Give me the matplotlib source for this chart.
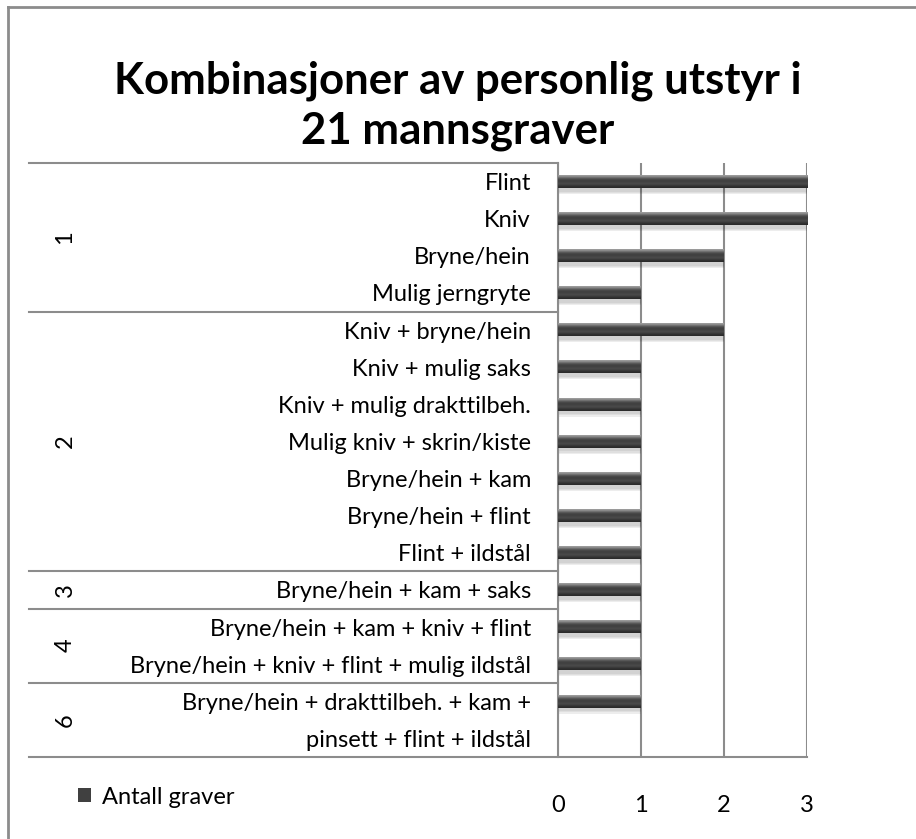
import numpy as np
import matplotlib
matplotlib.use("Agg")
import matplotlib.pyplot as plt
from matplotlib.transforms import blended_transform_factory
from matplotlib.lines import Line2D

plt.rcParams['font.family'] = ['Lato', 'DejaVu Sans']

title = "Kombinasjoner av personlig utstyr i\n21 mannsgraver"
categories = [
    "Flint", "Kniv", "Bryne/hein", "Mulig jerngryte",
    "Kniv + bryne/hein", "Kniv + mulig saks", "Kniv + mulig drakttilbeh.",
    "Mulig kniv + skrin/kiste", "Bryne/hein + kam", "Bryne/hein + flint",
    "Flint + ildstål",
    "Bryne/hein + kam + saks",
    "Bryne/hein + kam + kniv + flint",
    "Bryne/hein + kniv + flint + mulig ildstål",
    "Bryne/hein + drakttilbeh. + kam +",
    "pinsett + flint + ildstål",
]
values = [3, 3, 2, 1, 2, 1, 1, 1, 1, 1, 1, 1, 1, 1, 1, np.nan]
group_names = ["1", "2", "3", "4", "6"]
group_sizes = [4, 7, 1, 2, 2]
series_name = "Antall graver"
xticks = [0, 1, 2, 3]

W, H = 916, 839
fs = 17
fig = plt.figure(figsize=(W / 100, H / 100), dpi=100)
ax = fig.add_axes([558 / W, 1 - 757 / H, (807 - 558) / W, (757 - 163) / H])

n = len(categories)
y = np.arange(n)
bh = 0.34
line_col = '#8c8c8c'

# shadow
vals = np.nan_to_num(np.array(values, dtype=float))
for k, a in enumerate([0.05, 0.06, 0.07]):
    ax.barh(y + 0.10 + 0.03 * k, vals, height=bh, color='black', alpha=a,
            zorder=2, linewidth=0)
bars = ax.barh(y, vals, height=bh, color='#404040', zorder=3, linewidth=0,
               label=series_name)

# cylinder-like gradient on bars
grad = np.array([0.62, 0.50, 0.36, 0.27, 0.25, 0.26, 0.30, 0.26, 0.20, 0.17])[:, None]
for yi, v in zip(y, vals):
    if v > 0:
        ax.imshow(grad, extent=(0, v, yi + bh / 2, yi - bh / 2), aspect='auto',
                  cmap='gray', vmin=0, vmax=1, zorder=4, interpolation='bicubic')

ax.set_xlim(0, 3)
ax.set_ylim(n - 0.5, -0.5)
ax.set_xticks(xticks)
ax.set_xticklabels([str(t) for t in xticks], fontsize=fs)
ax.set_yticks(y)
ax.set_yticklabels(categories, fontsize=fs)
ax.tick_params(axis='y', length=0, pad=19.5)
ax.tick_params(axis='x', length=0, pad=27)
for s in ['top', 'right']:
    ax.spines[s].set_visible(False)
ax.spines['left'].set_color(line_col)
ax.spines['left'].set_linewidth(1.5)
ax.spines['bottom'].set_visible(False)
ax.xaxis.grid(True, color=line_col, linewidth=1.5)
ax.set_axisbelow(True)

# group separators and labels
tr = blended_transform_factory(fig.transFigure, ax.transData)
x_left = 29 / W
x_axis = 558 / W
x_right = 807 / W
ax.add_line(Line2D([x_left, x_axis], [-0.5, -0.5], transform=tr, color=line_col,
                   linewidth=1.5, clip_on=False))
start = 0
for name, size in zip(group_names, group_sizes):
    end = start + size
    yb = end - 0.5
    xr = x_right if end == n else x_axis
    ax.add_line(Line2D([x_left, xr], [yb, yb], transform=tr, color=line_col,
                       linewidth=1.5, clip_on=False))
    ax.text(65 / W, (start + end - 1) / 2, name, transform=tr, rotation=90,
            ha='center', va='center', fontsize=fs)
    start = end

# title
fig.text(0.5, 1 - 106 / H, title, ha='center', va='center', fontsize=31.5,
         fontweight='bold', linespacing=1.3)

# legend
ax.legend(handles=[bars], loc='center left', bbox_to_anchor=(57 / W, 1 - 797 / H),
          bbox_transform=fig.transFigure, frameon=False, fontsize=fs,
          handlelength=0.55, handleheight=0.55, handletextpad=0.45)

# figure border (left and top)
fig.add_artist(Line2D([8 / W, 8 / W], [0, 1 - 7 / H], transform=fig.transFigure,
                      color='#8c8c8c', linewidth=2))
fig.add_artist(Line2D([8 / W, 1], [1 - 7 / H, 1 - 7 / H], transform=fig.transFigure,
                      color='#8c8c8c', linewidth=2))

fig.savefig("out.png", dpi=100)
